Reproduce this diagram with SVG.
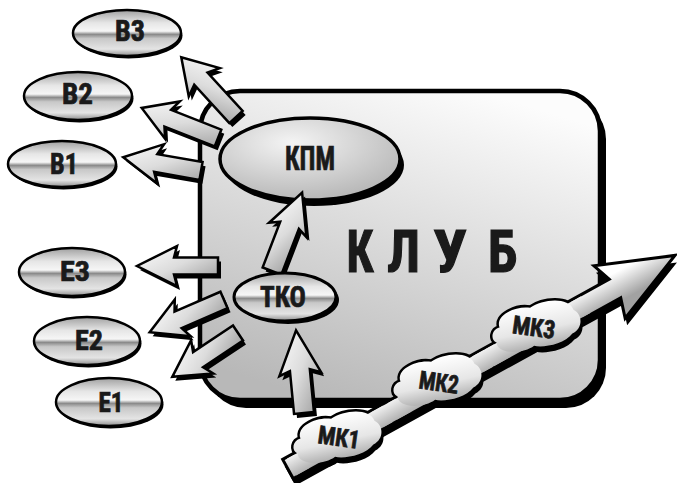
<svg xmlns="http://www.w3.org/2000/svg" xmlns:xlink="http://www.w3.org/1999/xlink" width="677" height="483" viewBox="0 0 677 483">
<defs>
<style>
.sh{fill:#000}
.ar{stroke:#000;stroke-width:2.5;stroke-linejoin:miter}
.au{fill:url(#gAU)}
.ad{fill:url(#gAD)}
.el{fill:url(#gMetal);stroke:#000;stroke-width:2.5}
.lb{font-family:"Roboto Condensed","Liberation Sans Narrow","DejaVu Sans Condensed","Liberation Sans",Arial,sans-serif;font-weight:bold;fill:#1a1a1a;stroke:#1a1a1a;stroke-width:0.7;text-anchor:middle}
.bl{fill:#000;stroke:#000;stroke-width:5;stroke-linejoin:round}
.bf{fill:url(#gBlob)}
</style>
<linearGradient id="gBox" x1="0.7" y1="0" x2="0.3" y2="1">
<stop offset="0" stop-color="#fcfcfc"/><stop offset="1" stop-color="#b8b8b8"/>
</linearGradient>
<linearGradient id="gMetal" x1="0" y1="0" x2="0" y2="1">
<stop offset="0" stop-color="#a0a0a0"/><stop offset="0.28" stop-color="#e6e6e6"/><stop offset="0.46" stop-color="#f6f6f6"/><stop offset="0.53" stop-color="#8a8a8a"/><stop offset="0.62" stop-color="#c8c8c8"/><stop offset="0.85" stop-color="#e4e4e4"/><stop offset="1" stop-color="#8c8c8c"/>
</linearGradient>
<radialGradient id="gKpm" cx="0.4" cy="0.3" r="0.75">
<stop offset="0" stop-color="#f4f4f4"/><stop offset="1" stop-color="#b4b4b4"/>
</radialGradient>
<linearGradient id="gAU" x1="1" y1="1" x2="0" y2="0">
<stop offset="0" stop-color="#ffffff"/><stop offset="0.5" stop-color="#dcdcdc"/><stop offset="1" stop-color="#959595"/>
</linearGradient>
<linearGradient id="gAD" x1="1" y1="0" x2="0" y2="1">
<stop offset="0" stop-color="#ffffff"/><stop offset="0.5" stop-color="#dcdcdc"/><stop offset="1" stop-color="#959595"/>
</linearGradient>
<linearGradient id="gMk" gradientUnits="userSpaceOnUse" x1="0" y1="-14" x2="0" y2="14">
<stop offset="0" stop-color="#ffffff"/><stop offset="1" stop-color="#a2a2a2"/>
</linearGradient>
<linearGradient id="gBlob" x1="0" y1="0" x2="0" y2="1">
<stop offset="0" stop-color="#ffffff"/><stop offset="0.6" stop-color="#e6e6e6"/><stop offset="1" stop-color="#b0b0b0"/>
</linearGradient>
<path id="blob" d="M -36,-6 C -38,-20 -14,-24 -2,-19 C 12,-25 38,-22 40,-8 C 48,-2 46,12 34,15 C 24,24 2,23 -6,19 C -18,25 -44,20 -42,8 C -48,4 -44,-6 -36,-6 Z"/>
<polygon id="pB3" transform="translate(236,117) rotate(-132.5)" points="0,-9 52,-9 47,-21 81,0 47,21 52,9 0,9"/>
<polygon id="pB2" transform="translate(218,138) rotate(-158.5)" points="0,-9 54,-9 49,-20 82,0 49,20 54,9 0,9"/>
<polygon id="pB1" transform="translate(201,171) rotate(-170)" points="0,-9 46,-9 41,-20 79,0 41,20 46,9 0,9"/>
<polygon id="pE3" transform="translate(218,266) rotate(180)" points="0,-8.5 44,-8.5 41,-20 81,0 41,20 44,8.5 0,8.5"/>
<polygon id="pE2" transform="translate(224,300) rotate(156.6)" points="0,-9 50,-9 45,-20 81,0 45,20 50,9 0,9"/>
<polygon id="pE1" transform="translate(238,333) rotate(146.3)" points="0,-9 48,-9 43,-20 79,0 43,20 48,9 0,9"/>
<polygon id="pTK" transform="translate(272,271) rotate(-69)" points="0,-10 49,-10 44,-20 84,0 44,20 49,10 0,10"/>
<polygon id="pUp" transform="translate(304,413) rotate(-95.5)" points="0,-10 43,-10 39,-21 83,0 39,21 43,10 0,10"/>
<polygon id="pMK" transform="translate(288,469) rotate(-28.9)" points="0,-11 373,-11 366,-30 442,0 368,31 374,11 0,11"/>
</defs>

<rect width="677" height="483" fill="#ffffff"/>

<g id="club">
<rect x="206" y="99" width="400" height="309" rx="40" fill="#000"/>
<rect x="200" y="91" width="400" height="309" rx="40" fill="url(#gBox)" stroke="#000" stroke-width="4.5"/>
<g class="lb" style="font-size:60px;stroke-width:1.2">
<text x="360" y="272" textLength="27" lengthAdjust="spacingAndGlyphs">К</text>
<text x="403.5" y="272" textLength="33" lengthAdjust="spacingAndGlyphs">Л</text>
<text x="450" y="272" textLength="34" lengthAdjust="spacingAndGlyphs">У</text>
<text x="502.5" y="272" textLength="29" lengthAdjust="spacingAndGlyphs">Б</text>
</g>
</g>

<g id="kpm">
<ellipse cx="314" cy="165" rx="90" ry="41" fill="#000"/>
<ellipse cx="310" cy="159" rx="90" ry="41" fill="url(#gKpm)" stroke="#000" stroke-width="3.5"/>
<text class="lb" x="310" y="170" style="font-size:33px" textLength="50" lengthAdjust="spacingAndGlyphs">КПМ</text>
</g>

<g id="connectors">
<g id="arrow-b3"><use xlink:href="#pB3" class="sh" transform="translate(3,4)"/><use xlink:href="#pB3" class="ar au"/></g>
<g id="arrow-b2"><use xlink:href="#pB2" class="sh" transform="translate(3,4)"/><use xlink:href="#pB2" class="ar au"/></g>
<g id="arrow-b1"><use xlink:href="#pB1" class="sh" transform="translate(3,4)"/><use xlink:href="#pB1" class="ar au"/></g>
<g id="arrow-e3"><use xlink:href="#pE3" class="sh" transform="translate(3,4)"/><use xlink:href="#pE3" class="ar au"/></g>
<g id="arrow-e2"><use xlink:href="#pE2" class="sh" transform="translate(3,4)"/><use xlink:href="#pE2" class="ar au"/></g>
<g id="arrow-e1"><use xlink:href="#pE1" class="sh" transform="translate(3,4)"/><use xlink:href="#pE1" class="ar au"/></g>
<g id="arrow-tko-kpm"><use xlink:href="#pTK" class="sh" transform="translate(3,4)"/><use xlink:href="#pTK" class="ar ad"/></g>
<g id="arrow-up-tko"><use xlink:href="#pUp" class="sh" transform="translate(3,4)"/><use xlink:href="#pUp" class="ar ad"/></g>
<g id="arrow-mk"><use xlink:href="#pMK" class="sh" transform="translate(2,7)"/><use xlink:href="#pMK" class="ar" style="fill:url(#gMk);stroke-width:3"/></g>
</g>

<g id="tko">
<ellipse cx="288" cy="300" rx="51" ry="24" fill="#000"/>
<ellipse cx="285" cy="297" rx="51" ry="24" class="el" style="stroke-width:3"/>
<text class="lb" x="283" y="307" style="font-size:29px" textLength="46" lengthAdjust="spacingAndGlyphs">ТКО</text>
</g>

<g id="b3">
<ellipse cx="128.5" cy="35.5" rx="54" ry="23" fill="#000"/>
<ellipse cx="127" cy="33" rx="54" ry="23" class="el"/>
<text class="lb" x="130" y="41" style="font-size:29px" textLength="30" lengthAdjust="spacingAndGlyphs">В3</text>
</g>
<g id="b2">
<ellipse cx="79.5" cy="98.5" rx="54" ry="24" fill="#000"/>
<ellipse cx="78" cy="96" rx="54" ry="24" class="el"/>
<text class="lb" x="77.5" y="104" style="font-size:29px" textLength="31" lengthAdjust="spacingAndGlyphs">В2</text>
</g>
<g id="b1">
<ellipse cx="63.5" cy="166.5" rx="54" ry="23" fill="#000"/>
<ellipse cx="62" cy="164" rx="54" ry="23" class="el"/>
<text class="lb" x="64" y="174" style="font-size:29px" textLength="28" lengthAdjust="spacingAndGlyphs">В1</text>
</g>
<g id="e3">
<ellipse cx="73.5" cy="274.5" rx="53" ry="24" fill="#000"/>
<ellipse cx="72" cy="272" rx="53" ry="24" class="el"/>
<text class="lb" x="75" y="281" style="font-size:28px" textLength="30" lengthAdjust="spacingAndGlyphs">Е3</text>
</g>
<g id="e2">
<ellipse cx="88.5" cy="343.5" rx="53" ry="24" fill="#000"/>
<ellipse cx="87" cy="341" rx="53" ry="24" class="el"/>
<text class="lb" x="89" y="350" style="font-size:28px" textLength="28" lengthAdjust="spacingAndGlyphs">Е2</text>
</g>
<g id="e1">
<ellipse cx="110.5" cy="404.5" rx="53" ry="24" fill="#000"/>
<ellipse cx="109" cy="402" rx="53" ry="24" class="el"/>
<text class="lb" x="111" y="412" style="font-size:28px" textLength="25" lengthAdjust="spacingAndGlyphs">Е1</text>
</g>

<g id="mk1">
<use xlink:href="#blob" class="sh" transform="translate(339,443) rotate(-12)"/>
<use xlink:href="#blob" class="bl" transform="translate(337,437) rotate(-12)"/>
<rect x="4" y="-9.5" width="110" height="19" fill="url(#gMk)" transform="translate(288,469) rotate(-28.9)"/>
<use xlink:href="#blob" class="bf" transform="translate(337,437) rotate(-12)"/>
<text class="lb" transform="translate(339,437) rotate(8)" x="0" y="9" style="font-size:25px" textLength="42" lengthAdjust="spacingAndGlyphs">МК1</text>
</g>
<g id="mk2">
<use xlink:href="#blob" class="sh" transform="translate(439,386) rotate(-12)"/>
<use xlink:href="#blob" class="bl" transform="translate(437,380) rotate(-12)"/>
<rect x="119" y="-9.5" width="110" height="19" fill="url(#gMk)" transform="translate(288,469) rotate(-28.9)"/>
<use xlink:href="#blob" class="bf" transform="translate(437,380) rotate(-12)"/>
<text class="lb" transform="translate(439,382) rotate(8)" x="0" y="9" style="font-size:25px" textLength="40" lengthAdjust="spacingAndGlyphs">МК2</text>
</g>
<g id="mk3">
<use xlink:href="#blob" class="sh" transform="translate(538,332) rotate(-12)"/>
<use xlink:href="#blob" class="bl" transform="translate(536,326) rotate(-12)"/>
<rect x="230" y="-9.5" width="110" height="19" fill="url(#gMk)" transform="translate(288,469) rotate(-28.9)"/>
<use xlink:href="#blob" class="bf" transform="translate(536,326) rotate(-12)"/>
<text class="lb" transform="translate(534,327) rotate(8)" x="0" y="9" style="font-size:25px" textLength="43" lengthAdjust="spacingAndGlyphs">МК3</text>
</g>
</svg>
